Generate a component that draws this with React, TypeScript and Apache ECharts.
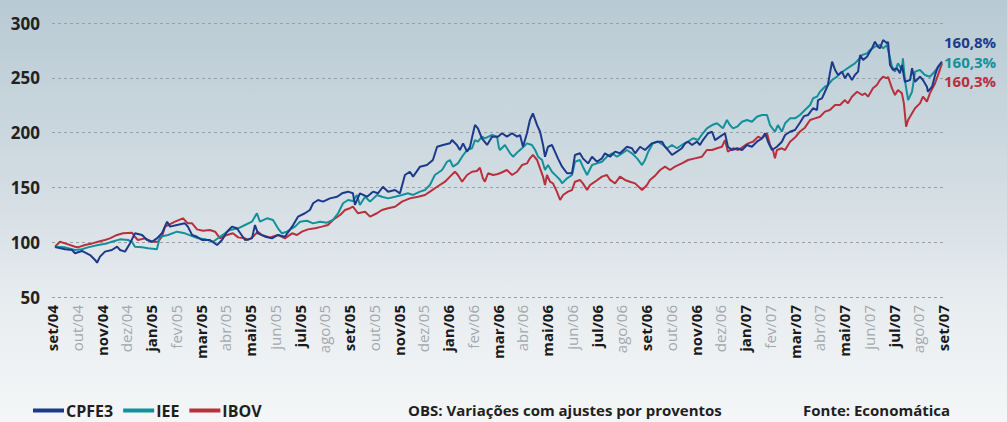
import React, { useEffect, useRef } from "react";
import * as echarts from "echarts";

// x = months since set/04 (0 = set/04, 36 = set/07), y = index value
const monthLabels = [
  "set/04", "out/04", "nov/04", "dez/04", "jan/05", "fev/05", "mar/05", "abr/05", "mai/05", "jun/05", "jul/05", "ago/05",
  "set/05", "out/05", "nov/05", "dez/05", "jan/06", "fev/06", "mar/06", "abr/06", "mai/06", "jun/06", "jul/06", "ago/06",
  "set/06", "out/06", "nov/06", "dez/06", "jan/07", "fev/07", "mar/07", "abr/07", "mai/07", "jun/07", "jul/07", "ago/07",
  "set/07",
];

const yTicks = [50, 100, 150, 200, 250, 300];

const seriesNames = ["CPFE3", "IEE", "IBOV"];
const seriesColors = ["#1d3a8a", "#13909a", "#b7303c"];
const endTexts = ["160,8%", "160,3%", "160,3%"];

const cpfe3: [number, number][] = [
  [0.12, 95.5], [0.53, 93.5], [0.81, 92.9], [0.93, 89.9], [1.21, 92.0], [1.54, 88.3], [1.74, 83.8], [1.82, 81.3],
  [1.94, 86.8], [2.14, 91.4], [2.42, 92.9], [2.63, 95.9], [2.75, 92.9], [2.95, 91.4], [3.15, 98.9], [3.35, 108.1],
  [3.64, 106.6], [3.84, 102.0], [4.04, 100.4], [4.24, 103.5], [4.44, 108.1], [4.65, 118.7], [4.77, 114.2], [5.05, 115.7],
  [5.37, 117.2], [5.49, 114.2], [5.66, 106.6], [5.86, 105.0], [6.06, 102.0], [6.38, 102.0], [6.67, 97.4], [6.87, 102.0],
  [7.07, 109.6], [7.27, 114.2], [7.47, 112.7], [7.80, 102.0], [8.08, 103.5], [8.20, 115.7], [8.32, 108.1], [8.61, 105.0],
  [8.89, 103.5], [9.13, 106.6], [9.41, 105.0], [9.70, 114.2], [9.94, 123.3], [10.22, 126.4], [10.42, 129.4], [10.55, 135.5],
  [10.75, 138.5], [10.95, 137.0], [11.23, 140.0], [11.52, 141.5], [11.72, 144.6], [11.96, 146.1], [12.16, 144.6], [12.24, 134.0],
  [12.44, 144.6], [12.73, 141.5], [12.97, 146.1], [13.17, 144.6], [13.37, 150.6], [13.58, 146.1], [13.86, 147.6], [14.06, 144.6],
  [14.26, 161.3], [14.46, 164.3], [14.59, 159.8], [14.87, 168.9], [15.15, 170.4], [15.39, 175.0], [15.56, 187.1], [15.80, 188.7],
  [16.08, 190.2], [16.16, 193.2], [16.36, 188.7], [16.48, 184.1], [16.61, 190.2], [16.77, 182.6], [16.89, 187.1], [17.01, 199.4],
  [17.09, 206.9], [17.21, 203.9], [17.37, 194.8], [17.58, 188.7], [17.78, 196.3], [18.02, 196.3], [18.18, 199.4], [18.38, 196.3],
  [18.59, 199.4], [18.79, 196.3], [18.91, 197.8], [19.03, 187.1], [19.19, 199.4], [19.31, 211.5], [19.43, 217.6], [19.60, 206.9],
  [19.72, 200.8], [19.84, 188.7], [19.92, 178.0], [20.04, 187.1], [20.20, 188.7], [20.32, 182.6], [20.44, 176.5], [20.61, 168.9],
  [20.81, 162.9], [21.01, 162.9], [21.13, 179.6], [21.33, 181.1], [21.45, 176.5], [21.66, 171.9], [21.82, 178.0], [22.02, 173.4],
  [22.22, 176.5], [22.34, 181.1], [22.55, 178.0], [22.75, 182.6], [22.95, 181.1], [23.23, 187.1], [23.43, 185.7], [23.56, 181.1],
  [23.76, 187.1], [23.96, 184.1], [24.24, 190.2], [24.44, 191.7], [24.65, 191.7], [24.77, 187.1], [24.89, 184.1], [25.05, 179.6],
  [25.25, 182.6], [25.45, 185.7], [25.58, 190.2], [25.70, 191.7], [25.86, 188.7], [26.06, 191.7], [26.18, 188.7], [26.30, 193.2],
  [26.51, 199.4], [26.67, 200.8], [26.79, 193.2], [26.99, 196.3], [27.19, 199.4], [27.31, 187.1], [27.47, 184.1], [27.68, 185.7],
  [27.88, 184.1], [28.08, 188.7], [28.28, 187.1], [28.48, 191.7], [28.69, 194.8], [28.81, 199.4], [28.93, 191.7], [29.09, 184.1],
  [29.29, 187.1], [29.49, 191.7], [29.62, 197.8], [29.82, 200.8], [30.02, 202.4], [30.22, 209.0], [30.38, 215.0], [30.55, 216.1],
  [30.75, 222.2], [30.91, 220.6], [30.95, 229.7], [31.11, 231.3], [31.23, 237.3], [31.35, 243.4], [31.43, 254.1], [31.52, 264.7],
  [31.64, 257.1], [31.76, 252.6], [31.92, 255.6], [32.04, 249.5], [32.16, 254.1], [32.32, 248.0], [32.44, 252.6], [32.57, 255.6],
  [32.65, 270.8], [32.77, 266.2], [32.93, 269.3], [33.05, 273.9], [33.13, 276.9], [33.25, 282.9], [33.37, 278.4], [33.45, 276.9],
  [33.58, 284.5], [33.74, 281.5], [33.78, 282.9], [33.86, 261.7], [33.98, 257.1], [34.14, 258.7], [34.26, 254.1], [34.34, 261.7],
  [34.46, 246.4], [34.67, 248.0], [34.75, 258.7], [34.87, 246.4], [35.07, 251.0], [35.19, 248.0], [35.35, 241.9], [35.39, 237.3],
  [35.56, 241.9], [35.68, 252.6], [35.80, 260.2], [35.96, 264.7],
];

const iee: [number, number][] = [
  [0.12, 95.9], [0.53, 95.3], [0.93, 92.9], [1.21, 93.5], [1.45, 95.3], [1.86, 97.4], [2.22, 98.9], [2.42, 100.4],
  [2.75, 102.6], [3.07, 102.0], [3.23, 100.4], [3.35, 95.9], [3.64, 95.3], [3.88, 94.4], [4.24, 93.5], [4.36, 105.0],
  [4.69, 106.6], [5.05, 109.6], [5.37, 108.1], [5.66, 105.6], [5.90, 103.5], [6.18, 102.8], [6.51, 100.4], [6.79, 105.0],
  [6.99, 108.1], [7.19, 111.1], [7.52, 112.7], [7.80, 115.7], [8.08, 118.7], [8.28, 126.4], [8.40, 118.7], [8.69, 121.8],
  [8.93, 120.3], [9.13, 112.7], [9.29, 108.1], [9.49, 109.6], [9.70, 112.7], [9.82, 114.2], [10.02, 118.7], [10.30, 119.6],
  [10.55, 117.2], [10.83, 118.7], [11.11, 117.8], [11.35, 120.3], [11.56, 126.4], [11.76, 135.5], [11.96, 138.5], [12.16, 137.5],
  [12.32, 143.1], [12.44, 134.0], [12.65, 141.5], [12.85, 137.0], [13.13, 143.1], [13.33, 141.5], [13.58, 140.0], [13.86, 141.5],
  [14.14, 143.1], [14.38, 144.6], [14.59, 143.1], [14.87, 146.1], [15.07, 147.6], [15.27, 152.2], [15.47, 161.3], [15.76, 165.9],
  [15.96, 173.4], [16.08, 175.0], [16.20, 168.9], [16.40, 171.9], [16.57, 178.0], [16.77, 184.1], [16.97, 185.7], [17.09, 193.2],
  [17.21, 191.7], [17.37, 196.3], [17.49, 194.8], [17.78, 197.8], [17.98, 196.3], [18.06, 186.0], [18.10, 184.1], [18.30, 188.7],
  [18.51, 181.1], [18.63, 178.0], [18.83, 182.6], [18.99, 185.7], [19.19, 190.2], [19.39, 188.7], [19.52, 184.1], [19.64, 178.0],
  [19.80, 175.0], [19.92, 165.9], [20.04, 170.4], [20.20, 164.3], [20.40, 159.8], [20.53, 156.8], [20.61, 153.7], [20.81, 158.3],
  [21.01, 161.3], [21.13, 173.4], [21.33, 175.0], [21.45, 168.9], [21.62, 161.3], [21.82, 170.4], [22.02, 171.9], [22.22, 173.4],
  [22.42, 178.0], [22.63, 181.1], [22.83, 178.0], [23.03, 181.1], [23.23, 184.1], [23.43, 181.1], [23.64, 176.5], [23.84, 170.4],
  [23.96, 175.0], [24.08, 182.0], [24.28, 190.2], [24.48, 191.7], [24.69, 188.7], [24.85, 185.7], [25.05, 188.7], [25.25, 185.7],
  [25.45, 188.7], [25.70, 191.7], [25.90, 194.8], [26.10, 193.2], [26.30, 199.4], [26.46, 203.9], [26.67, 206.9], [26.87, 208.5],
  [27.11, 203.9], [27.27, 211.5], [27.39, 206.9], [27.52, 203.9], [27.68, 205.4], [27.88, 209.9], [28.08, 211.5], [28.28, 209.9],
  [28.48, 214.5], [28.69, 216.1], [28.89, 216.1], [29.01, 206.9], [29.21, 200.8], [29.33, 206.9], [29.49, 200.8], [29.62, 208.5],
  [29.82, 213.0], [30.02, 213.0], [30.22, 216.1], [30.42, 220.6], [30.63, 225.2], [30.75, 231.3], [30.91, 232.8], [31.03, 237.3],
  [31.23, 241.9], [31.35, 243.4], [31.52, 248.0], [31.72, 251.0], [31.84, 254.1], [32.04, 257.1], [32.24, 260.2], [32.44, 263.2],
  [32.57, 266.2], [32.73, 270.8], [32.93, 272.3], [33.05, 275.4], [33.25, 278.4], [33.45, 279.9], [33.58, 276.9], [33.74, 279.9],
  [33.78, 275.4], [33.94, 260.2], [34.06, 255.6], [34.18, 263.2], [34.34, 257.1], [34.38, 267.8], [34.46, 248.0], [34.59, 229.7],
  [34.75, 237.3], [34.87, 255.6], [35.07, 257.1], [35.27, 252.6], [35.47, 251.0], [35.60, 254.1], [35.76, 258.7], [35.96, 263.2],
];

const ibov: [number, number][] = [
  [0.12, 95.9], [0.32, 100.4], [0.53, 98.9], [0.93, 95.9], [1.05, 95.3], [1.33, 97.4], [1.62, 98.9], [1.86, 100.4],
  [2.14, 102.0], [2.34, 103.5], [2.63, 106.6], [2.87, 108.1], [3.23, 108.7], [3.35, 105.0], [3.47, 102.0], [3.76, 103.5],
  [4.04, 100.4], [4.28, 100.4], [4.44, 105.0], [4.57, 114.2], [4.97, 118.7], [5.29, 121.8], [5.49, 117.2], [5.66, 117.2],
  [5.86, 111.7], [6.10, 110.5], [6.38, 111.1], [6.59, 109.6], [6.79, 103.5], [7.07, 106.6], [7.31, 108.1], [7.52, 104.4],
  [7.80, 103.5], [7.92, 102.0], [8.12, 105.0], [8.32, 109.6], [8.48, 106.6], [8.81, 104.4], [9.13, 106.6], [9.41, 103.5],
  [9.70, 108.1], [9.90, 106.6], [10.10, 109.6], [10.34, 111.7], [10.63, 112.7], [10.91, 114.2], [11.15, 115.7], [11.35, 120.3],
  [11.64, 124.8], [11.84, 129.4], [12.04, 131.0], [12.16, 132.4], [12.36, 126.4], [12.65, 127.8], [12.85, 123.3], [13.13, 126.4],
  [13.33, 129.4], [13.58, 130.9], [13.86, 132.4], [14.14, 137.0], [14.46, 140.0], [14.79, 141.5], [15.07, 143.1], [15.27, 146.1],
  [15.56, 150.6], [15.88, 155.2], [16.08, 159.8], [16.28, 164.3], [16.40, 161.3], [16.57, 155.2], [16.77, 161.3], [16.97, 164.3],
  [17.17, 165.0], [17.29, 168.0], [17.41, 158.3], [17.49, 155.2], [17.62, 162.9], [17.82, 161.3], [17.98, 162.0], [18.10, 162.9],
  [18.38, 165.9], [18.59, 161.3], [18.79, 164.3], [18.99, 170.4], [19.19, 171.9], [19.31, 176.5], [19.43, 179.6], [19.60, 175.0],
  [19.72, 167.4], [19.84, 159.8], [19.92, 152.2], [20.00, 161.3], [20.12, 155.2], [20.24, 153.7], [20.40, 146.1], [20.53, 138.5],
  [20.65, 143.1], [20.85, 146.1], [21.01, 147.6], [21.13, 155.2], [21.33, 156.8], [21.45, 153.7], [21.62, 147.6], [21.74, 152.2],
  [21.94, 155.2], [22.22, 159.8], [22.42, 161.3], [22.55, 156.8], [22.75, 153.7], [22.95, 159.8], [23.15, 156.8], [23.35, 155.2],
  [23.56, 153.7], [23.84, 147.6], [24.04, 152.2], [24.16, 156.8], [24.36, 160.5], [24.57, 165.9], [24.77, 168.9], [24.97, 165.9],
  [25.17, 168.9], [25.45, 171.9], [25.70, 175.0], [25.98, 176.5], [26.26, 178.0], [26.46, 184.1], [26.67, 184.1], [26.87, 185.7],
  [27.07, 187.1], [27.19, 193.2], [27.31, 182.6], [27.52, 185.7], [27.72, 184.1], [27.92, 187.1], [28.12, 190.2], [28.32, 191.7],
  [28.53, 196.3], [28.69, 194.8], [28.89, 199.4], [29.01, 188.7], [29.13, 184.1], [29.21, 176.5], [29.29, 184.1], [29.49, 185.7],
  [29.62, 184.1], [29.82, 191.7], [30.02, 195.5], [30.22, 201.0], [30.42, 204.5], [30.63, 211.5], [30.83, 213.0], [31.03, 214.5],
  [31.23, 219.1], [31.43, 220.6], [31.64, 225.2], [31.84, 225.2], [32.04, 229.7], [32.16, 226.7], [32.32, 232.8], [32.53, 237.3],
  [32.73, 234.3], [32.85, 235.8], [32.97, 232.8], [33.17, 240.4], [33.33, 243.4], [33.45, 248.0], [33.58, 251.0], [33.74, 249.5],
  [33.78, 251.0], [33.94, 240.4], [34.06, 234.3], [34.18, 238.9], [34.34, 235.8], [34.42, 226.7], [34.51, 205.4], [34.59, 211.5],
  [34.75, 217.6], [34.87, 222.2], [35.07, 226.7], [35.19, 232.8], [35.35, 228.2], [35.47, 235.8], [35.68, 245.0], [35.80, 252.6],
  [35.96, 263.2],
];

const noteText = "OBS: Variações com ajustes por proventos";
const sourceText = "Fonte: Economática";

const FONT = "'Open Sans', 'Noto Sans', sans-serif";

export default function App() {
  const ref = useRef<HTMLDivElement>(null);

  useEffect(() => {
    if (!ref.current) return;
    const chart = echarts.init(ref.current, undefined, { renderer: "svg" });
    const seriesData = [cpfe3, iee, ibov];
    const endOffsets = [[2, -20], [2, -1], [2, 18]];
    const order = [2, 1, 0];
    chart.setOption({
      animation: false,
      backgroundColor: "transparent",
      textStyle: { fontFamily: FONT },
      grid: { left: 52, right: 64, top: 23, bottom: 125, containLabel: false },
      legend: {
        data: seriesNames,
        left: 33,
        top: 402,
        padding: 0,
        icon: "rect",
        itemWidth: 31,
        itemHeight: 4,
        itemGap: 10,
        textStyle: { fontFamily: FONT, fontSize: 16, fontWeight: "bold", color: "#1f1f1f", lineHeight: 17, padding: [0, 0, 0, -3] },
      },
      xAxis: {
        type: "value",
        min: 0,
        max: monthLabels.length - 1,
        interval: 1,
        axisLine: { show: false },
        axisTick: { show: false },
        splitLine: { show: false },
        axisLabel: {
          rotate: 90,
          margin: 8,
          formatter: (v: number) => {
            const i = Math.round(v);
            const t = monthLabels[i] ?? "";
            return i % 2 === 0 ? `{a|${t}}` : `{b|${t}}`;
          },
          rich: {
            a: { fontFamily: FONT, fontSize: 15, fontWeight: "bold", color: "#1a1a1a" },
            b: { fontFamily: FONT, fontSize: 15, fontWeight: "normal", color: "#a3a8ac" },
          },
        },
      },
      yAxis: {
        type: "value",
        min: yTicks[0],
        max: yTicks[yTicks.length - 1],
        interval: 50,
        axisLine: { show: false },
        axisTick: { show: false },
        axisLabel: { margin: 12, fontFamily: FONT, fontSize: 17, fontWeight: "bold", color: "#222" },
        splitLine: { show: true, lineStyle: { color: "#9a9fa3", width: 1, type: [3, 3] } },
      },
      series: order.map((i) => ({
        name: seriesNames[i],
        type: "line",
        data: seriesData[i],
        showSymbol: false,
        symbol: "none",
        color: seriesColors[i],
        lineStyle: { width: 2, color: seriesColors[i] },
        z: 3 - i,
        endLabel: {
          show: true,
          formatter: endTexts[i],
          offset: endOffsets[i],
          distance: 0,
          color: seriesColors[i],
          fontFamily: FONT,
          fontSize: 15,
          lineHeight: 16,
          fontWeight: "bold",
        },
      })),
      graphic: [
        {
          type: "text",
          left: 408,
          top: 402,
          style: { text: noteText, fontFamily: FONT, fontSize: 15, fontWeight: "bold", fill: "#1f1f1f" },
        },
        {
          type: "text",
          left: 803,
          top: 402,
          style: { text: sourceText, fontFamily: FONT, fontSize: 15, fontWeight: "bold", fill: "#1f1f1f" },
        },
      ],
    });
    return () => chart.dispose();
  }, []);

  return (
    <div
      style={{
        position: "fixed",
        left: 0,
        top: 0,
        width: 1007,
        height: 422,
        background: "linear-gradient(180deg, #b8cad4 0%, #d3dde3 45%, #eaeef1 75%, #f4f6f7 100%)",
      }}
    >
      <div ref={ref} style={{ width: 1007, height: 422 }} />
    </div>
  );
}
